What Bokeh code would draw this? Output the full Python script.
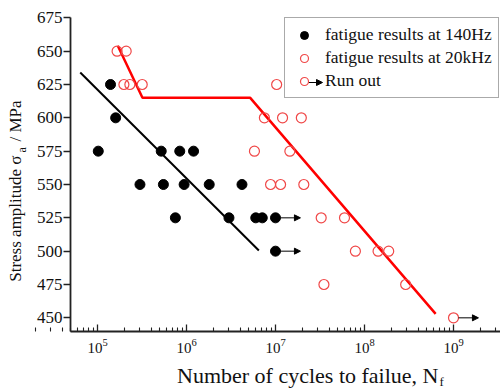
import math
from bokeh.plotting import figure
from bokeh.models import (Range1d, FixedTicker, Label, Arrow, NormalHead,
                          Legend, LegendItem, ColumnDataSource)
from bokeh.embed import file_html
from bokeh.resources import INLINE

# ---------------- data ----------------
black_N = [1.02e5, 1.4e5, 1.6e5, 5.2e5, 8.4e5, 1.2e6, 3.0e5, 5.5e5, 9.4e5, 1.8e6,
           4.2e6, 7.5e5, 3.0e6, 6.0e6, 7.1e6, 1.0e7, 1.0e7]
black_S = [575, 625, 600, 575, 575, 575, 550, 550, 550, 550,
           550, 525, 525, 525, 525, 525, 500]
black_runout = [False] * 15 + [True, True]

red_N = [1.66e5, 2.1e5, 1.98e5, 2.31e5, 3.18e5, 1.03e7, 7.5e6, 1.2e7, 1.95e7, 5.8e6,
         1.45e7, 8.8e6, 1.14e7, 2.08e7, 3.26e7, 5.96e7, 7.9e7, 1.42e8, 1.87e8, 3.5e7,
         2.9e8, 1.0e9]
red_S = [650, 650, 625, 625, 625, 625, 600, 600, 600, 575,
         575, 550, 550, 550, 525, 525, 500, 500, 500, 475,
         475, 450]
red_runout = [False] * 21 + [True]

black_fit_N = [6.4e4, 6.5e6]
black_fit_S = [634, 500.5]
red_fit_N = [1.69e5, 3.2e5, 5.2e6, 6.3e8]
red_fit_S = [654, 615, 615, 453]

y_ticks = [450, 475, 500, 525, 550, 575, 600, 625, 650, 675]
x_ticks = [1e5, 1e6, 1e7, 1e8, 1e9]
x_minor = [k * 10.0 ** e for e in range(4, 10) for k in range(2, 10)]

x_axis_bounds = (10 ** 4.6966, 10 ** 9.528)
y_axis_bounds = (440, 675)

FONT = "Liberation Serif"
W, H = 500, 390

# ---------------- figure ----------------
p = figure(width=W, height=H, x_axis_type="log",
           x_range=Range1d(10 ** 3.9101, 10 ** 9.528), y_range=Range1d(395.5, 688),
           output_backend="svg", toolbar_location=None)
p.min_border = 0
p.min_border_left = 0
p.min_border_right = 0
p.min_border_top = 0
p.min_border_bottom = 0
p.outline_line_color = None
p.grid.visible = False
p.background_fill_color = "white"
p.border_fill_color = "white"

for ax in (p.xaxis[0], p.yaxis[0]):
    ax.axis_line_color = "#222222"
    ax.axis_line_width = 1.8
    ax.major_tick_line_color = "#222222"
    ax.minor_tick_line_color = "#222222"
    ax.major_tick_line_width = 1.3
    ax.minor_tick_line_width = 1.1
    ax.major_label_text_font = FONT
    ax.major_label_text_color = "#111111"

xa = p.xaxis[0]
xa.fixed_location = y_axis_bounds[0]
xa.bounds = x_axis_bounds
xa.ticker = FixedTicker(ticks=x_ticks, minor_ticks=x_minor)
xa.major_tick_in = 7
xa.major_tick_out = 0
xa.minor_tick_in = 4
xa.minor_tick_out = 0
xa.major_label_text_font_size = "15px"
xa.major_label_standoff = 8

ya = p.yaxis[0]
ya.fixed_location = x_axis_bounds[0]
ya.bounds = y_axis_bounds
ya.ticker = FixedTicker(ticks=y_ticks)
ya.major_tick_in = 0
ya.major_tick_out = 7
ya.minor_tick_in = 0
ya.minor_tick_out = 0
ya.major_label_text_font_size = "17px"
ya.major_label_standoff = 1

# fit lines
p.line(black_fit_N, black_fit_S, line_color="black", line_width=2)
p.line(red_fit_N, red_fit_S, line_color="#ff0000", line_width=2.5)

# points
rb = p.scatter(black_N, black_S, marker="circle", size=10,
               fill_color="black", line_color="black")
rr = p.scatter(red_N, red_S, marker="circle", size=10,
               fill_color=None, line_color="#f04848", line_width=1.2)

# run-out arrows
def runout_source(N, S, flags):
    xs0, xs1, ys = [], [], []
    for n, s, f in zip(N, S, flags):
        if f:
            xs0.append(n * 10 ** 0.056)
            xs1.append(n * 10 ** 0.28)
            ys.append(s)
    return ColumnDataSource(dict(x0=xs0, x1=xs1, y=ys))

for src in (runout_source(black_N, black_S, black_runout),
            runout_source(red_N, red_S, red_runout)):
    p.add_layout(Arrow(end=NormalHead(size=6, fill_color="black", line_color="black"),
                       x_start="x0", y_start="y", x_end="x1", y_end="y",
                       line_color="black", line_width=1, source=src))

# legend
legend = Legend(items=[
    LegendItem(label="fatigue results at 140Hz", renderers=[rb]),
    LegendItem(label="fatigue results at 20kHz", renderers=[rr]),
    LegendItem(label="Run out", renderers=[rr]),
], location=(284, H - 98))
legend.padding = 6
legend.spacing = 2
legend.margin = 0
legend.label_height = 20
legend.glyph_height = 20
legend.glyph_width = 26
legend.label_standoff = 8
legend.label_text_font = FONT
legend.label_text_font_size = "17.5px"
legend.label_text_color = "#111111"
legend.border_line_color = "#555555"
legend.border_line_width = 1.2
legend.background_fill_color = "white"
legend.background_fill_alpha = 0
p.add_layout(legend)

p.add_layout(Arrow(end=NormalHead(size=6, fill_color="black", line_color="black"),
                   x_start=308, y_start=H - 82, x_end=322, y_end=H - 82,
                   start_units="screen", end_units="screen",
                   line_color="black", line_width=1))

# axis titles (with subscripts)
p.add_layout(Label(x=310, y=H - 375, x_units="screen", y_units="screen",
                   text="Number of cycles to failue,  N", text_align="center",
                   text_baseline="alphabetic", text_font=FONT,
                   text_font_size="22px", text_color="#111111"))
p.add_layout(Label(x=439, y=H - 381, x_units="screen", y_units="screen",
                   text="f", text_align="left", text_baseline="alphabetic",
                   text_font=FONT, text_font_size="13px", text_color="#111111"))

p.add_layout(Label(x=15, y=H - 155, x_units="screen", y_units="screen", angle=math.pi / 2,
                   text="Stress amplitude σ", text_align="right",
                   text_baseline="alphabetic", text_font=FONT,
                   text_font_size="17px", text_color="#111111"))
p.add_layout(Label(x=21, y=H - 152, x_units="screen", y_units="screen", angle=math.pi / 2,
                   text="a", text_align="left", text_baseline="alphabetic",
                   text_font=FONT, text_font_size="12px", text_color="#111111"))
p.add_layout(Label(x=15, y=H - 141, x_units="screen", y_units="screen", angle=math.pi / 2,
                   text="/ MPa", text_align="left", text_baseline="alphabetic",
                   text_font=FONT, text_font_size="17px", text_color="#111111"))

open("out.html", "w").write(file_html(p, INLINE))
